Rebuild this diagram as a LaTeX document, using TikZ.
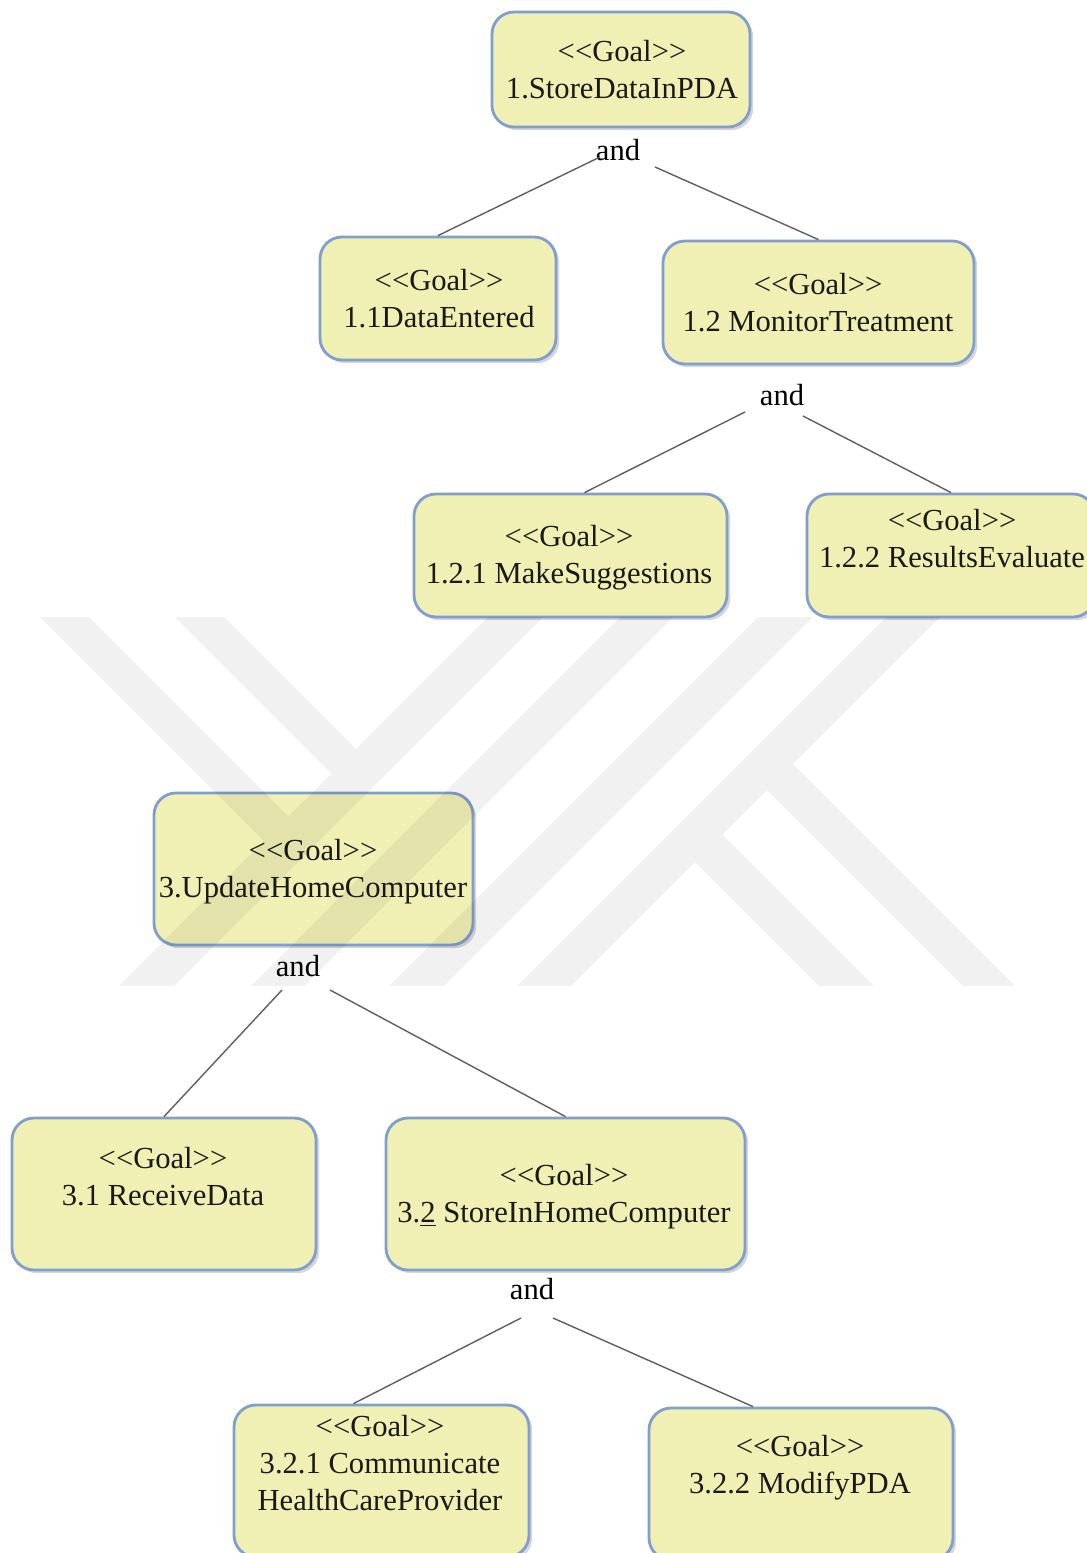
\documentclass[tikz,border=0pt]{standalone}
\usepackage{fontspec}
\setmainfont{Liberation Serif}
\usetikzlibrary{shadows}
\definecolor{goalfill}{RGB}{240,240,180}
\definecolor{goaledge}{RGB}{128,158,206}
\definecolor{linkgray}{RGB}{95,95,95}
% stereotype tag; the zero kerns keep << and >> from turning into guillemets
\newcommand\goaltag{<\kern0pt<Goal>\kern0pt>}
\begin{document}
\begin{tikzpicture}[x=0.5pt,y=-0.5pt,
  goalbox/.style={draw=goaledge, line width=1.4pt, fill=goalfill, rounded corners=11pt,
    drop shadow={shadow xshift=1.6pt, shadow yshift=-1.6pt, fill=black, opacity=0.16},
    inner sep=0pt},
  goaltext/.style={font=\fontsize{15.3}{18.5}\selectfont, align=center, inner sep=0pt, text=black!90},
  andlabel/.style={font=\fontsize{15.3}{18.5}\selectfont, inner sep=0pt},
  link/.style={draw=linkgray, line width=0.7pt}]

\useasboundingbox (0,0) rectangle (1087,1553);
\fill[white] (0,0) rectangle (1087,1553);
\clip (0,0) rectangle (1087,1553);

% goal boxes
\node[goalbox, minimum width=129pt,   minimum height=57.5pt] (b1)   at (621,69.5)   {};
\node[goalbox, minimum width=118pt,   minimum height=61.5pt] (b11)  at (438,298.5)  {};
\node[goalbox, minimum width=155.5pt, minimum height=61.5pt] (b12)  at (818.5,302.5) {};
\node[goalbox, minimum width=156.5pt, minimum height=61.5pt] (b121) at (570.5,555.5) {};
\node[goalbox, minimum width=144pt,   minimum height=61.5pt] (b122) at (951,555.5)  {};
\node[goalbox, minimum width=159.5pt, minimum height=76pt]   (b3)   at (313.5,869)  {};
\node[goalbox, minimum width=152pt,   minimum height=76pt]   (b31)  at (164,1194)   {};
\node[goalbox, minimum width=179.5pt, minimum height=76pt]   (b32)  at (565.5,1194) {};
\node[goalbox, minimum width=147.5pt, minimum height=76pt]   (b321) at (381.5,1481) {};
\node[goalbox, minimum width=152pt,   minimum height=76pt]   (b322) at (801,1484)   {};

% box captions
\node[goaltext] (t1)   at (622,70)    {\goaltag\\1.StoreDataInPDA};
\node[goaltext] (t11)  at (439,299)   {\goaltag\\1.1DataEntered};
\node[goaltext] (t12)  at (818,303)   {\goaltag\\1.2 MonitorTreatment};
\node[goaltext] (t121) at (569,558)   {\goaltag\\1.2.1 MakeSuggestions};
\node[goaltext] (t122) at (952,539)   {\goaltag\\1.2.2 ResultsEvaluate};
\node[goaltext] (t3)   at (313,872)   {\goaltag\\3.UpdateHomeComputer};
\node[goaltext] (t31)  at (163,1177)  {\goaltag\\3.1 ReceiveData};
\node[goaltext] (t32)  at (564,1197)  {\goaltag\\3.\underline{2} StoreInHomeComputer};
\node[goaltext] (t321) at (380,1463)  {\goaltag\\3.2.1 Communicate\\HealthCareProvider};
\node[goaltext] (t322) at (800,1468)  {\goaltag\\3.2.2 ModifyPDA};

% AND decompositions
\node[andlabel] (and1)  at (618,150)  {and};
\node[andlabel] (and12) at (782,395)  {and};
\node[andlabel] (and3)  at (298,966)  {and};
\node[andlabel] (and32) at (532,1289) {and};

\coordinate (a1l)  at (600,157);  \coordinate (a1r)  at (655,167);
\coordinate (a12l) at (745,412);  \coordinate (a12r) at (803,416);
\coordinate (a3l)  at (282,990);  \coordinate (a3r)  at (330,990);
\coordinate (a32l) at (521,1318); \coordinate (a32r) at (553,1318);

\draw[link] (a1l) -- (b11.north);
\draw[link] (a1r) -- (b12.north);
\draw[link] (a12l) -- ([xshift=7pt]b121.north);
\draw[link] (a12r) -- (b122.north);
\draw[link] (a3l) -- (b31.north);
\draw[link] (a3r) -- (b32.north);
\draw[link] (a32l) -- ([xshift=-14pt]b321.north);
\draw[link] (a32r) -- ([xshift=-24pt]b322.north);

% faint emblem lying across the middle of the page
\begin{scope}
  \clip (0,617) rectangle (1087,985);
  \fill[black, fill opacity=0.055]
    (505,600) -- (560,600) -- (160,1000) -- (105,1000) -- cycle
    (637,600) -- (690,600) -- (290,1000) -- (237,1000) -- cycle
    (775,600) -- (830,600) -- (430,1000) -- (375,1000) -- cycle
    (903,600) -- (957,600) -- (557,1000) -- (503,1000) -- cycle
    (23,600) -- (72,600) -- (302,830) -- (277.5,854.5) -- cycle
    (158,600) -- (207,600) -- (369.5,762.5) -- (345,787) -- cycle
    (709,821) -- (888,1000) -- (833,1000) -- (681.5,848.5) -- cycle
    (779.5,750.5) -- (1029,1000) -- (977,1000) -- (753.5,776.5) -- cycle;
\end{scope}
\end{tikzpicture}
\end{document}
